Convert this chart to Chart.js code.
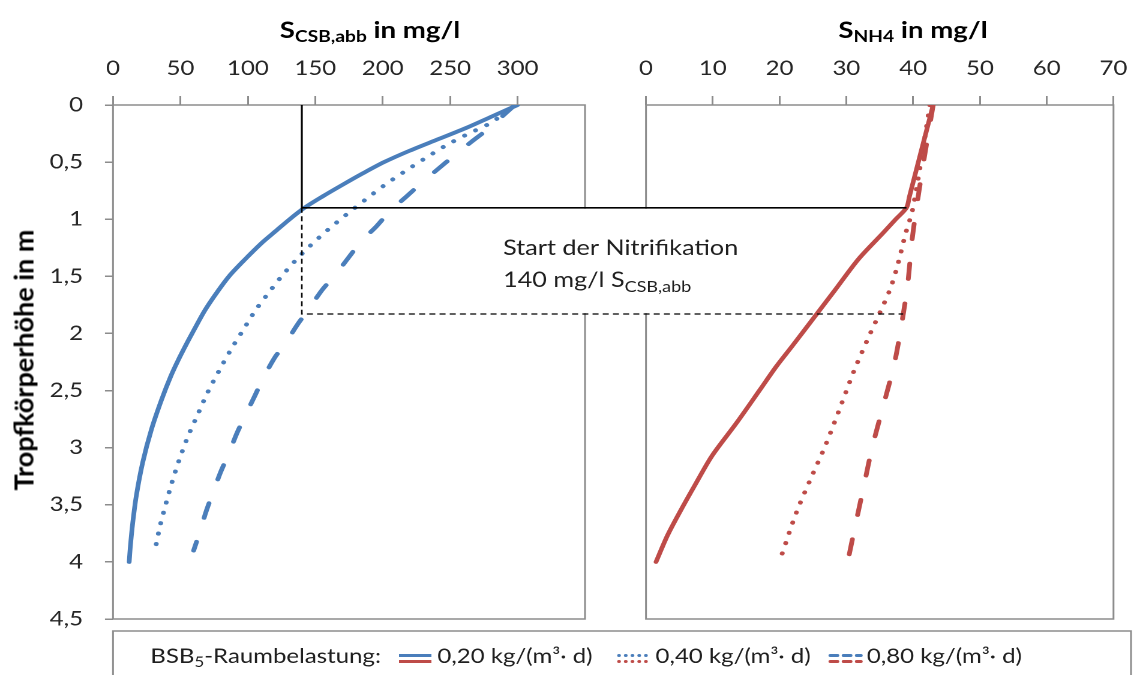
<!DOCTYPE html>
<html>
<head>
<meta charset="utf-8">
<script src="https://cdn.jsdelivr.net/npm/chart.js@4.4.1/dist/chart.umd.min.js"></script>
<style>
  html, body { margin: 0; padding: 0; background: #fff; overflow: hidden; }
  #page { position: relative; width: 1145px; height: 675px; overflow: hidden; background: #fff; }
  /* the drawing is laid out on a narrower stage and widened horizontally */
  #stage { position: absolute; left: 0; top: 0; width: 954.1667px; height: 675px;
           transform: scaleX(1.2); transform-origin: 0 0; }
  #stage canvas { position: absolute; top: 0; }
  #yTitle { position: absolute; left: 22.5px; top: 360px; transform: translate(-50%, -50%) rotate(-90deg);
            font: bold 27px Lato, sans-serif; line-height: 1; white-space: nowrap; color: #000; }
</style>
</head>
<body>
<div id="page">
  <div id="stage">
    <canvas id="csbChart" width="500" height="675" style="left:0"></canvas>
    <canvas id="nh4Chart" width="455" height="675" style="left:500px"></canvas>
    <canvas id="overlay" style="left:0"></canvas>
  </div>
  <div id="yTitle">Tropfkörperhöhe in m</div>
</div>
<script>
// Axis ticks
const depthTicks = [0, 0.5, 1, 1.5, 2, 2.5, 3, 3.5, 4, 4.5];
const csbTicks = [0, 50, 100, 150, 200, 250, 300];
const nh4Ticks = [0, 10, 20, 30, 40, 50, 60, 70];

// BSB5 volumetric loads (one line style each)
const loadLabels = ['0,20 kg/(m³· d)', '0,40 kg/(m³· d)', '0,80 kg/(m³· d)'];

// Degradable COD over filter depth
const csbDepth020 = [0, 0.1, 0.2, 0.3, 0.4, 0.5, 0.6, 0.7, 0.8, 0.9, 1.0, 1.1, 1.2, 1.35, 1.5, 1.65, 1.8, 1.97, 2.08, 2.23, 2.37, 2.58, 2.84, 3.13, 3.42, 3.66, 3.86, 4.0];
const csb020      = [300, 281, 262, 241, 220, 201, 185, 170, 155.5, 142, 131, 121, 111, 98, 86, 76.5, 68, 60, 55, 48.5, 43, 36, 28.5, 22, 17.3, 14.6, 12.9, 12];
const csbDepth040 = [0, 0.16, 0.26, 0.36, 0.47, 0.58, 0.7, 0.83, 0.96, 1.09, 1.22, 1.35, 1.5, 1.65, 1.8, 1.97, 2.14, 2.33, 2.52, 2.71, 2.9, 3.1, 3.3, 3.5, 3.7, 3.9];
const csb040      = [299, 279.5, 262, 246, 231, 216.5, 201.5, 187, 173, 159.6, 147.3, 136.2, 125, 115, 105.5, 96.5, 87.5, 78.5, 70, 62.8, 55.6, 49.3, 43.8, 39, 34.6, 31.1];
const csbDepth080 = [0, 0.22, 0.32, 0.45, 0.57, 0.68, 0.8, 0.93, 1.06, 1.19, 1.34, 1.49, 1.62, 1.79, 1.91, 2.1, 2.21, 2.4, 2.55, 2.72, 2.87, 3.06, 3.22, 3.39, 3.56, 3.74, 3.9];
const csb080      = [298, 277, 266, 252.3, 240, 229, 217.7, 205.3, 195.5, 184.4, 174.4, 164.6, 155, 145, 137.5, 127, 120, 111, 105, 98, 92, 85.5, 79.6, 74.2, 69, 64.3, 59.8];

// Ammonium over filter depth
const nh4Depth020 = [0, 0.45, 0.8, 0.9, 1.0, 1.12, 1.35, 1.62, 1.85, 2.11, 2.29, 2.49, 2.78, 3.07, 3.31, 3.57, 3.77, 4.0];
const nh4_020     = [43, 41, 39.45, 39, 37.4, 35.5, 31.8, 28.3, 25.3, 21.9, 19.5, 17.1, 13.6, 9.9, 7.5, 5.0, 3.2, 1.5];
const nh4Depth040 = [0, 0.45, 0.92, 1.12, 1.44, 1.62, 1.82, 2.01, 2.32, 2.69, 2.99, 3.28, 3.57, 3.96];
const nh4_040     = [42.5, 41.3, 39.9, 38.9, 37.5, 36.5, 35.0, 33.5, 31.2, 28.8, 26.8, 24.6, 22.5, 20.2];
const nh4Depth080 = [0, 0.45, 0.9, 1.2, 1.56, 1.91, 2.26, 2.64, 2.99, 3.34, 3.72, 4.0];
const nh4_080     = [43, 41.7, 40.5, 39.8, 39.2, 38.3, 37.2, 35.5, 33.9, 32.6, 31.2, 30.2];

// Start of nitrification: COD level and the depths / NH4 levels where it is reached
const nitriCsb = 140;
const nitriDepth = [0.9, 1.83];
const nitriNh4 = [39, 38.5];

const BLUE = '#4A7EBB', RED = '#BE4B48', AXIS = '#8c8c8c', TEXT = '#262626';
const FONT = 'Lato, sans-serif';
const STAGE_W = 954.1667, STAGE_H = 675, RIGHT_OFFSET = 500;

const lineStyles = [
  { borderDash: [], borderWidth: 3.9 },
  { borderDash: [0.1, 10.5], borderWidth: 4 },
  { borderDash: [15, 25], borderWidth: 4 }
];

function points(depths, values) {
  return depths.map((d, i) => ({ x: values[i], y: d }));
}
function dataset(label, pts, color, style, tension) {
  return Object.assign({
    label, data: pts, showLine: true, borderColor: color, backgroundColor: color,
    pointRadius: 0, pointHoverRadius: 0, tension: tension, fill: false,
    borderCapStyle: 'round', borderJoinStyle: 'round'
  }, style);
}
const fixedTicks = values => scale => { scale.ticks = values.map(v => ({ value: v })); };
const fmtDepth = v => String(v).replace('.', ',');

// plot frame; the inner side is left open where the nitrification box sits
const framePlugin = {
  id: 'frame',
  beforeDatasetsDraw(chart, args, opts) {
    const { left, right, top, bottom } = chart.chartArea;
    const ys = chart.scales.y;
    const g0 = ys.getPixelForValue(nitriDepth[0]);
    const g1 = ys.getPixelForValue(nitriDepth[1]);
    const ctx = chart.ctx;
    ctx.save();
    ctx.strokeStyle = AXIS;
    ctx.lineWidth = 1.5;
    ctx.lineCap = 'square';
    ctx.beginPath();
    ctx.moveTo(left, top); ctx.lineTo(right, top);
    ctx.moveTo(left, bottom); ctx.lineTo(right, bottom);
    const side = (x, open) => {
      if (open) {
        ctx.moveTo(x, top); ctx.lineTo(x, g0);
        ctx.moveTo(x, g1); ctx.lineTo(x, bottom);
      } else {
        ctx.moveTo(x, top); ctx.lineTo(x, bottom);
      }
    };
    side(left, opts.openSide === 'left');
    side(right, opts.openSide === 'right');
    ctx.stroke();
    ctx.restore();
  }
};

function topAxis(max, ticks) {
  return {
    type: 'linear', position: 'top', min: 0, max: max,
    afterBuildTicks: fixedTicks(ticks),
    ticks: { padding: 15.5, maxRotation: 0, autoSkip: false, color: TEXT, font: { family: FONT, size: 20 } },
    grid: { drawOnChartArea: false, drawTicks: true, tickLength: 9, color: AXIS, lineWidth: 1.5 },
    border: { display: false },
    afterFit: s => { s.height = 105; }
  };
}

function build() {
  const csbChart = new Chart(document.getElementById('csbChart'), {
    type: 'scatter',
    data: {
      datasets: [
        dataset(loadLabels[2], points(csbDepth080, csb080), BLUE, lineStyles[2], 0.3),
        dataset(loadLabels[1], points(csbDepth040, csb040), BLUE, lineStyles[1], 0.3),
        dataset(loadLabels[0], points(csbDepth020, csb020), BLUE, lineStyles[0], 0.3)
      ]
    },
    options: {
      responsive: false, animation: false, devicePixelRatio: 2,
      layout: { padding: { left: 0, top: 0, right: 12.5, bottom: 56 } },
      plugins: { legend: { display: false }, tooltip: { enabled: false }, frame: { openSide: 'right' } },
      events: [],
      scales: {
        x: topAxis(350, csbTicks),
        y: {
          type: 'linear', reverse: true, min: 0, max: 4.5,
          afterBuildTicks: fixedTicks(depthTicks),
          ticks: { callback: fmtDepth, padding: 18.3, autoSkip: false, color: TEXT, font: { family: FONT, size: 20 } },
          grid: { drawOnChartArea: false, drawTicks: true, tickLength: 6.7, color: AXIS, lineWidth: 1.5 },
          border: { display: false },
          afterFit: s => { s.width = 94.17; }
        }
      }
    },
    plugins: [framePlugin]
  });

  const nh4Chart = new Chart(document.getElementById('nh4Chart'), {
    type: 'scatter',
    data: {
      datasets: [
        dataset(loadLabels[2], points(nh4Depth080, nh4_080), RED, lineStyles[2], 0.3),
        dataset(loadLabels[1], points(nh4Depth040, nh4_040), RED, lineStyles[1], 0.3),
        dataset(loadLabels[0], points(nh4Depth020, nh4_020), RED, lineStyles[0], 0.3)
      ]
    },
    options: {
      responsive: false, animation: false, devicePixelRatio: 2,
      layout: { padding: { left: 38.33, top: 0, right: 15.83, bottom: 56 } },
      plugins: { legend: { display: false }, tooltip: { enabled: false }, frame: { openSide: 'left' } },
      events: [],
      scales: {
        x: topAxis(70, nh4Ticks),
        y: { type: 'linear', display: false, reverse: true, min: 0, max: 4.5 }
      }
    },
    plugins: [framePlugin]
  });

  drawOverlay(csbChart, nh4Chart);
}

function richText(ctx, parts, x, y, align) {
  const fontOf = p => (p.bold ? 'bold ' : '') + p.size + 'px ' + FONT;
  let total = 0;
  parts.forEach(p => { ctx.font = fontOf(p); p.w = ctx.measureText(p.t).width; total += p.w; });
  let cx = align === 'center' ? x - total / 2 : x;
  parts.forEach(p => { ctx.font = fontOf(p); ctx.fillText(p.t, cx, y + (p.dy || 0)); cx += p.w; });
  return cx;
}

function drawOverlay(L, R) {
  const cv = document.getElementById('overlay');
  const dpr = 2;
  cv.width = Math.round(STAGE_W * dpr);
  cv.height = STAGE_H * dpr;
  cv.style.width = STAGE_W + 'px';
  cv.style.height = STAGE_H + 'px';
  const ctx = cv.getContext('2d');
  ctx.scale(dpr, dpr);
  ctx.textBaseline = 'alphabetic';
  ctx.textAlign = 'left';

  // axis titles
  ctx.fillStyle = '#000';
  richText(ctx, [
    { t: 'S', size: 23, bold: true },
    { t: 'CSB,abb', size: 16, bold: true, dy: 4 },
    { t: ' in mg/l', size: 23, bold: true }
  ], 308.3, 38, 'center');
  richText(ctx, [
    { t: 'S', size: 23, bold: true },
    { t: 'NH4', size: 16, bold: true, dy: 4 },
    { t: ' in mg/l', size: 23, bold: true }
  ], 760.8, 38, 'center');

  // start of nitrification
  const xs = L.scales.x.getPixelForValue(nitriCsb);
  const y0 = L.scales.y.getPixelForValue(0);
  const y1 = L.scales.y.getPixelForValue(nitriDepth[0]);
  const y2 = L.scales.y.getPixelForValue(nitriDepth[1]);
  const xe1 = RIGHT_OFFSET + R.scales.x.getPixelForValue(nitriNh4[0]);
  const xe2 = RIGHT_OFFSET + R.scales.x.getPixelForValue(nitriNh4[1]);

  ctx.strokeStyle = '#000';
  ctx.lineWidth = 1.6;
  ctx.setLineDash([]);
  ctx.beginPath();
  ctx.moveTo(xs, y0); ctx.lineTo(xs, y1); ctx.lineTo(xe1, y1);
  ctx.stroke();

  ctx.lineWidth = 1.3;
  ctx.setLineDash([5, 3.5]);
  ctx.beginPath();
  ctx.moveTo(xs, y1); ctx.lineTo(xs, y2); ctx.lineTo(xe2, y2);
  ctx.stroke();
  ctx.setLineDash([]);

  ctx.fillStyle = '#1f1f1f';
  richText(ctx, [{ t: 'Start der Nitrifikation', size: 21 }], 419.2, 255, 'left');
  richText(ctx, [
    { t: nitriCsb + ' mg/l S', size: 21 },
    { t: 'CSB,abb', size: 15, dy: 5 }
  ], 419.2, 287, 'left');

  // legend
  ctx.strokeStyle = AXIS;
  ctx.lineWidth = 1.5;
  ctx.strokeRect(94.17, 631, 942.5 - 94.17, 100);
  ctx.fillStyle = '#1f1f1f';
  richText(ctx, [
    { t: 'BSB', size: 20 },
    { t: '5', size: 14, dy: 4 },
    { t: '-Raumbelastung:', size: 20 }
  ], 125.3, 663, 'left');

  const iconX = [332.5, 514.3, 690.4];
  const iconDash = [[], [0.1, 5.5], [6, 5]];
  loadLabels.forEach((lbl, i) => {
    const x = iconX[i];
    [[BLUE, 655.5], [RED, 661.5]].forEach(([c, y]) => {
      ctx.beginPath();
      ctx.setLineDash(iconDash[i]);
      ctx.lineCap = i === 0 ? 'butt' : 'round';
      ctx.lineWidth = 3;
      ctx.strokeStyle = c;
      ctx.moveTo(x + (i === 0 ? 0 : 1.5), y);
      ctx.lineTo(x + 27, y);
      ctx.stroke();
    });
    ctx.setLineDash([]);
    ctx.lineCap = 'butt';
    ctx.fillStyle = '#1f1f1f';
    richText(ctx, [{ t: lbl, size: 20 }], x + 32, 663, 'left');
  });
}

document.fonts.load('20px Lato').then(() => document.fonts.load('bold 23px Lato')).then(build, build);
</script>
</body>
</html>
